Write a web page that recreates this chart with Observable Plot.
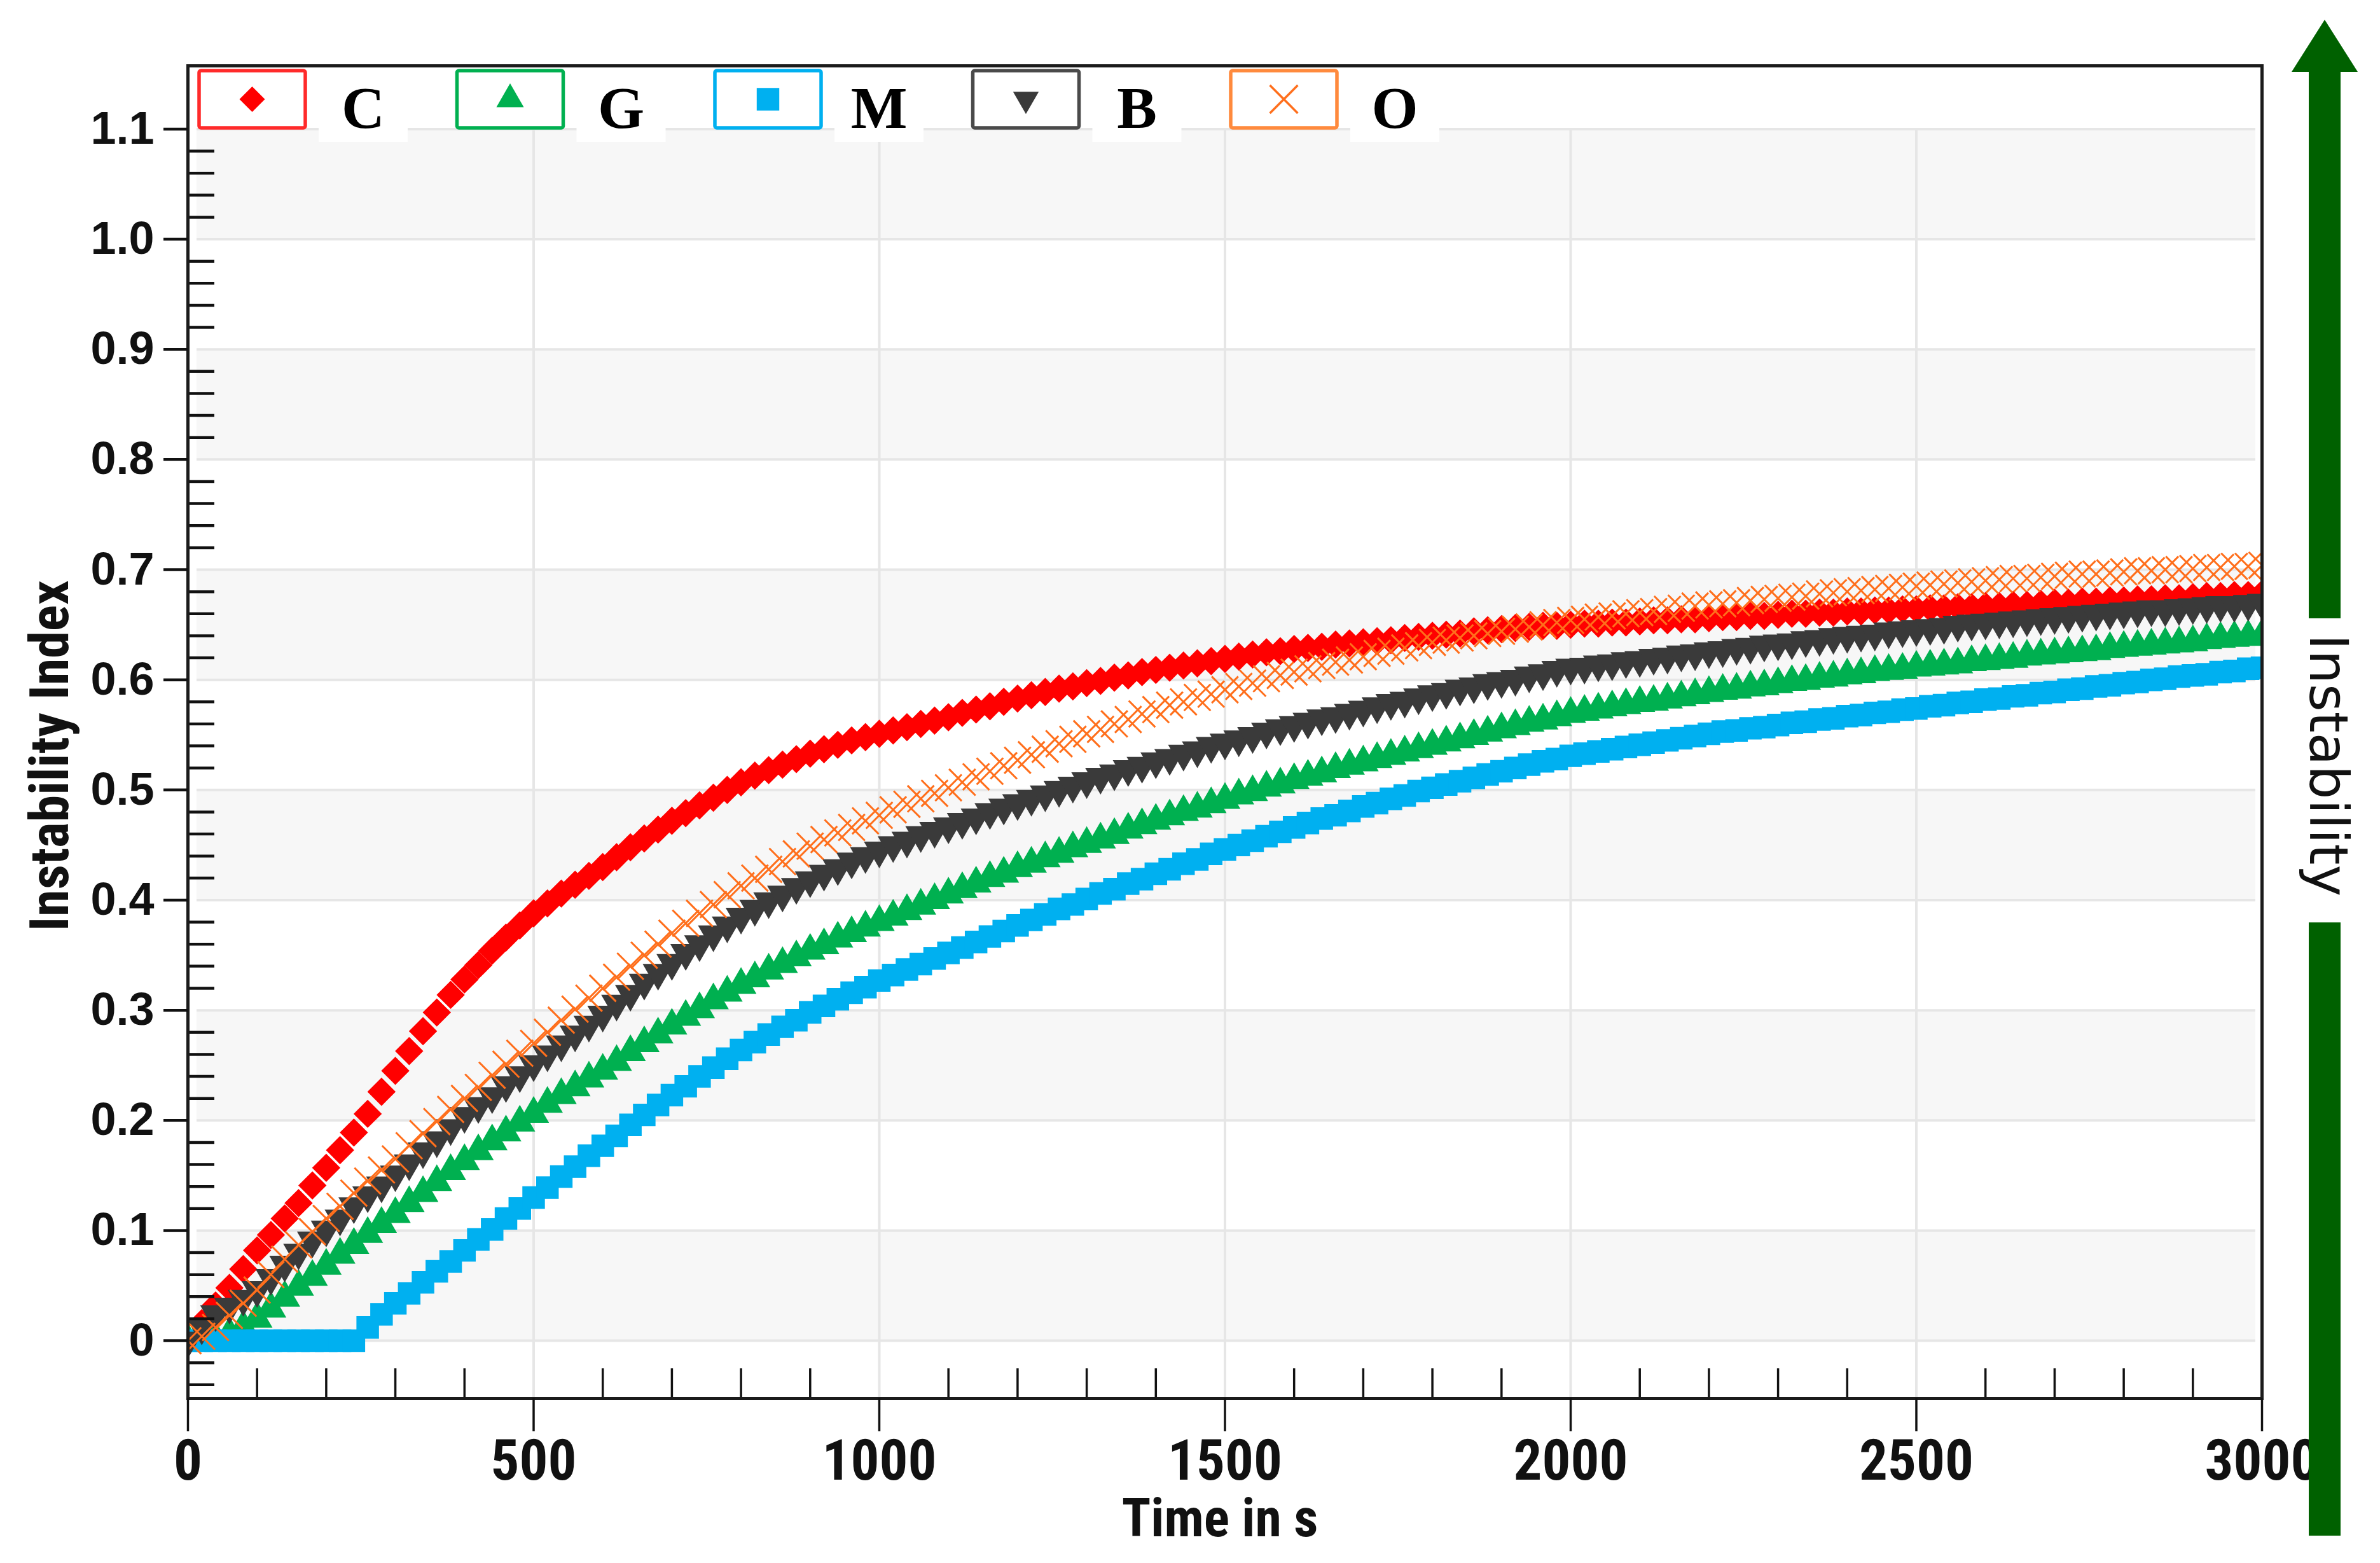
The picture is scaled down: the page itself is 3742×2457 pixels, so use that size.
<!DOCTYPE html>
<html>
<head>
<meta charset="utf-8">
<script src="https://cdn.jsdelivr.net/npm/d3@7"></script>
<script src="https://cdn.jsdelivr.net/npm/@observablehq/plot@0.6"></script>
<style>
html,body{margin:0;padding:0;background:#fff;}
#wrap{position:relative;width:3742px;height:2457px;overflow:hidden;background:#fff;}
#wrap svg{position:absolute;left:0;top:0;}
</style>
</head>
<body>
<div id="wrap"></div>
<script>
// ---- data (readings every STEP seconds, 0 .. 3000 s) ----
const STEP = 20;
const C = [
0.000,0.016,0.032,0.048,0.065,0.082,0.096,0.111,0.125,0.141,
0.157,0.173,0.189,0.206,0.226,0.245,0.263,0.281,0.298,0.314,
0.328,0.341,0.354,0.366,0.377,0.388,0.397,0.406,0.414,0.422,
0.430,0.439,0.448,0.456,0.464,0.472,0.479,0.486,0.493,0.500,
0.507,0.513,0.518,0.523,0.528,0.533,0.537,0.541,0.545,0.548,
0.551,0.554,0.557,0.560,0.563,0.566,0.570,0.573,0.576,0.580,
0.583,0.586,0.589,0.592,0.594,0.597,0.599,0.602,0.604,0.607,
0.609,0.611,0.613,0.615,0.617,0.619,0.621,0.623,0.625,0.626,
0.628,0.629,0.630,0.632,0.633,0.634,0.635,0.636,0.638,0.639,
0.640,0.641,0.642,0.644,0.645,0.646,0.647,0.648,0.649,0.649,
0.650,0.651,0.651,0.652,0.652,0.653,0.654,0.654,0.655,0.655,
0.656,0.657,0.657,0.658,0.658,0.659,0.660,0.660,0.661,0.661,
0.662,0.662,0.663,0.663,0.664,0.664,0.665,0.665,0.666,0.666,
0.667,0.667,0.668,0.668,0.669,0.670,0.670,0.671,0.671,0.672,
0.672,0.673,0.673,0.674,0.674,0.675,0.676,0.676,0.677,0.677,
0.678];
const G = [
0.000,0.000,0.002,0.006,0.012,0.020,0.029,0.039,0.049,0.058,
0.068,0.078,0.087,0.097,0.106,0.115,0.125,0.134,0.144,0.154,
0.163,0.172,0.181,0.189,0.198,0.206,0.215,0.223,0.230,0.238,
0.245,0.253,0.262,0.270,0.278,0.286,0.294,0.301,0.309,0.316,
0.323,0.329,0.336,0.342,0.348,0.354,0.359,0.365,0.370,0.375,
0.380,0.385,0.390,0.395,0.400,0.405,0.410,0.415,0.420,0.424,
0.429,0.433,0.438,0.442,0.447,0.451,0.455,0.459,0.464,0.468,
0.472,0.476,0.480,0.483,0.487,0.491,0.495,0.498,0.502,0.505,
0.509,0.512,0.515,0.519,0.522,0.525,0.528,0.531,0.534,0.537,
0.540,0.543,0.546,0.549,0.552,0.555,0.558,0.561,0.563,0.566,
0.569,0.571,0.573,0.575,0.577,0.579,0.580,0.582,0.584,0.586,
0.588,0.590,0.591,0.593,0.594,0.596,0.598,0.599,0.601,0.602,
0.604,0.605,0.607,0.608,0.609,0.611,0.612,0.613,0.614,0.616,
0.617,0.618,0.619,0.621,0.622,0.623,0.624,0.625,0.626,0.628,
0.629,0.630,0.631,0.632,0.633,0.634,0.636,0.637,0.638,0.639,
0.640];
const M = [
0.000,0.000,0.000,0.000,0.000,0.000,0.000,0.000,0.000,0.000,
0.000,0.000,0.000,0.012,0.024,0.034,0.043,0.053,0.063,0.072,
0.082,0.092,0.101,0.111,0.120,0.130,0.139,0.149,0.158,0.168,
0.177,0.186,0.196,0.205,0.214,0.223,0.231,0.240,0.248,0.256,
0.264,0.271,0.278,0.285,0.291,0.298,0.304,0.310,0.316,0.321,
0.327,0.332,0.337,0.342,0.347,0.352,0.357,0.362,0.367,0.372,
0.377,0.382,0.387,0.392,0.396,0.401,0.406,0.410,0.415,0.419,
0.424,0.428,0.433,0.437,0.442,0.446,0.450,0.454,0.458,0.462,
0.466,0.470,0.474,0.477,0.481,0.485,0.488,0.492,0.495,0.499,
0.502,0.505,0.508,0.511,0.514,0.517,0.520,0.523,0.526,0.528,
0.531,0.533,0.535,0.537,0.539,0.541,0.543,0.545,0.547,0.549,
0.551,0.553,0.554,0.556,0.557,0.559,0.561,0.562,0.564,0.565,
0.567,0.568,0.570,0.571,0.573,0.574,0.576,0.577,0.579,0.580,
0.582,0.583,0.585,0.586,0.588,0.589,0.591,0.592,0.594,0.595,
0.597,0.598,0.600,0.601,0.603,0.604,0.605,0.607,0.608,0.610,
0.611];
const B = [
0.000,0.012,0.024,0.031,0.038,0.046,0.057,0.069,0.080,0.091,
0.101,0.111,0.122,0.132,0.141,0.151,0.161,0.172,0.182,0.193,
0.204,0.213,0.222,0.232,0.241,0.251,0.260,0.269,0.278,0.287,
0.296,0.306,0.315,0.325,0.334,0.343,0.352,0.360,0.369,0.377,
0.385,0.392,0.399,0.405,0.412,0.418,0.424,0.429,0.435,0.440,
0.445,0.450,0.454,0.459,0.463,0.467,0.471,0.475,0.480,0.484,
0.488,0.492,0.496,0.500,0.504,0.508,0.512,0.515,0.519,0.522,
0.526,0.529,0.533,0.536,0.540,0.543,0.546,0.549,0.553,0.556,
0.559,0.562,0.565,0.567,0.570,0.573,0.576,0.579,0.581,0.584,
0.587,0.589,0.592,0.594,0.597,0.599,0.601,0.604,0.606,0.609,
0.611,0.612,0.614,0.615,0.617,0.618,0.620,0.621,0.623,0.624,
0.626,0.627,0.629,0.630,0.632,0.633,0.634,0.636,0.637,0.639,
0.640,0.641,0.642,0.644,0.645,0.646,0.647,0.648,0.650,0.651,
0.652,0.653,0.654,0.655,0.656,0.657,0.658,0.659,0.660,0.661,
0.662,0.663,0.664,0.664,0.665,0.666,0.667,0.668,0.668,0.669,
0.670];
const O = [
0.000,0.004,0.012,0.023,0.034,0.046,0.060,0.074,0.087,0.099,
0.111,0.122,0.134,0.145,0.155,0.165,0.177,0.188,0.199,0.210,
0.220,0.230,0.241,0.251,0.261,0.270,0.280,0.291,0.301,0.311,
0.320,0.330,0.340,0.350,0.360,0.370,0.379,0.388,0.396,0.405,
0.413,0.420,0.428,0.435,0.442,0.449,0.455,0.461,0.466,0.472,
0.477,0.482,0.487,0.492,0.497,0.502,0.507,0.512,0.517,0.522,
0.527,0.532,0.537,0.542,0.546,0.551,0.555,0.560,0.564,0.569,
0.573,0.577,0.580,0.584,0.587,0.591,0.594,0.597,0.601,0.604,
0.607,0.610,0.613,0.616,0.618,0.621,0.624,0.626,0.629,0.631,
0.634,0.636,0.638,0.640,0.642,0.644,0.646,0.648,0.650,0.652,
0.654,0.655,0.657,0.658,0.660,0.661,0.662,0.664,0.665,0.667,
0.668,0.669,0.670,0.672,0.673,0.674,0.675,0.676,0.678,0.679,
0.680,0.681,0.682,0.683,0.684,0.685,0.686,0.687,0.688,0.689,
0.690,0.691,0.692,0.692,0.693,0.694,0.695,0.696,0.696,0.697,
0.698,0.699,0.699,0.700,0.700,0.701,0.702,0.702,0.703,0.703,
0.704];

const seriesNames = ["C", "G", "M", "B", "O"];
const xMajorTicks = [0, 500, 1000, 1500, 2000, 2500, 3000];
const yMajorTicks = [0, 0.1, 0.2, 0.3, 0.4, 0.5, 0.6, 0.7, 0.8, 0.9, 1.0, 1.1];
const xTitle = "Time in s";
const yTitle = "Instability Index";
const arrowLabel = "Instability";

// ---- styling / layout ----
const W = 3742, H = 2457;
const mL = 295, mR = 186, mT = 103, mB = 259;
const innerW = W - mL - mR, innerH = H - mT - mB;
const Y_LO = -0.0525, Y_HI = 1.1574;
const narrow = "'Liberation Sans Narrow', 'Arial Narrow', 'Roboto Condensed', sans-serif";

const invTriangle = {
  draw(ctx, size) {
    const y = Math.sqrt(size / (Math.sqrt(3) * 3));
    ctx.moveTo(0, 2 * y);
    ctx.lineTo(-Math.sqrt(3) * y, -y);
    ctx.lineTo(Math.sqrt(3) * y, -y);
    ctx.closePath();
  }
};

const style = {
  C: {color: "#ff0000", box: "#ff2a2a", symbol: "diamond2", r: 20, filled: true, legR: 18},
  G: {color: "#00b050", box: "#00b050", symbol: "triangle", r: 18, filled: true, legR: 16},
  M: {color: "#00b0f0", box: "#00b0f0", symbol: "square", r: 20, filled: true, legR: 20},
  B: {color: "#3a3a3a", box: "#4a4a4a", symbol: invTriangle, r: 18, filled: true, legR: 15},
  O: {color: "#ff6f1c", box: "#ff8a3d", symbol: "times", r: 19, filled: false, legR: 20}
};
const values = {C, G, M, B, O};

const rows = name => values[name].map((v, i) => ({t: i * STEP, v, s: name}));

const xMinor = d3.range(100, 3000, 100).filter(d => d % 500 !== 0);
const yMinor = d3.range(-2, 55).map(i => +(i * 0.02).toFixed(2)).filter(d => Math.abs(d * 10 - Math.round(d * 10)) > 1e-6 && d < 1.1);
const bandStarts = yMajorTicks.filter((d, i) => i % 2 === 0);

const dotMarks = seriesNames.map(name => {
  const st = style[name];
  return Plot.dot(rows(name), {
    x: "t", y: "v",
    symbol: st.symbol, r: st.r,
    fill: st.filled ? st.color : "none",
    stroke: st.filled ? "none" : st.color,
    strokeWidth: st.filled ? 0 : 3,
    clip: true
  });
});

const plot = Plot.plot({
  width: W, height: H,
  marginLeft: mL, marginRight: mR, marginTop: mT, marginBottom: mB,
  style: {background: "transparent", color: "#111", fontFamily: "'Liberation Sans', Arial, sans-serif", overflow: "visible"},
  x: {domain: [0, 3000], label: null},
  y: {domain: [Y_LO, Y_HI], label: null},
  marks: [
    Plot.rect(bandStarts.slice(0, 6), {y1: d => d, y2: d => d + 0.1, fill: "#f7f7f7", insetLeft: 14, insetRight: 10}),
    Plot.ruleY(yMajorTicks, {stroke: "#e6e6e6", strokeWidth: 4, insetLeft: 14, insetRight: 10}),
    Plot.ruleX(xMajorTicks.slice(1, -1), {y1: Y_LO, y2: 1.1, stroke: "#e6e6e6", strokeWidth: 4}),
    ...dotMarks,
    Plot.tickX(xMinor, {x: d => d, insetTop: innerH - 47, stroke: "#111", strokeWidth: 3.5}),
    Plot.tickY(yMinor, {y: d => d, insetRight: innerW - 42, stroke: "#111", strokeWidth: 4.5}),
    Plot.frame({stroke: "#1b1b1b", strokeWidth: 5}),
    Plot.axisY(yMajorTicks, {
      tickSize: 38, tickPadding: 15, strokeWidth: 4.5, stroke: "#111",
      tickFormat: d => d === 0 ? "0" : d.toFixed(1),
      fontSize: 72, fontWeight: "bold", fontFamily: "'Liberation Sans', Arial, sans-serif", fill: "#111",
      label: null
    }),
    Plot.axisX(xMajorTicks, {
      tickSize: 52, tickPadding: 12, strokeWidth: 3.5, stroke: "#111",
      tickFormat: d => String(d),
      fontSize: 89, fontWeight: "bold", fontFamily: narrow, fill: "#111",
      label: null
    }),
    Plot.text([yTitle], {text: d => d, frameAnchor: "left", textAnchor: "middle", lineAnchor: "middle",
      dx: -216, dy: 37, rotate: -90,
      fontSize: 86, fontWeight: "bold", fontFamily: narrow, fill: "#111"}),
    Plot.text([xTitle], {text: d => d, frameAnchor: "bottom", textAnchor: "middle", lineAnchor: "middle",
      dx: -8, dy: 190,
      fontSize: 84, fontWeight: "bold", fontFamily: narrow, fill: "#111"})
  ]
});

const wrap = document.getElementById("wrap");
wrap.appendChild(plot);

// ---- overlay: legend inside the frame and the "Instability" arrow on the right ----
const ov = d3.select(wrap).append("svg")
  .attr("width", W).attr("height", H)
  .style("pointer-events", "none");

const symbolType = {diamond2: d3.symbolDiamond2, triangle: d3.symbolTriangle, square: d3.symbolSquare, times: d3.symbolTimes};
const legendX0 = 313, legendStep = 405.5, boxW = 167, boxH = 90, boxY = 111;
seriesNames.forEach((name, i) => {
  const st = style[name];
  const x0 = legendX0 + i * legendStep;
  const g = ov.append("g");
  g.append("rect").attr("x", x0).attr("y", boxY).attr("width", boxW).attr("height", boxH)
    .attr("rx", 3).attr("fill", "#fff").attr("stroke", st.box).attr("stroke-width", 5.5);
  const type = typeof st.symbol === "string" ? symbolType[st.symbol] : st.symbol;
  g.append("path")
    .attr("d", d3.symbol().type(type).size(Math.PI * st.legR * st.legR)())
    .attr("transform", `translate(${x0 + boxW / 2},${boxY + boxH / 2})`)
    .attr("fill", st.filled ? st.color : "none")
    .attr("stroke", st.filled ? "none" : st.color)
    .attr("stroke-width", st.filled ? 0 : 3.5);
  const cx = x0 + 258;
  g.append("rect").attr("x", cx - 70).attr("y", boxY + 2).attr("width", 140).attr("height", 110).attr("fill", "#fff");
  g.append("text").attr("x", cx).attr("y", 201).attr("text-anchor", "middle")
    .attr("font-family", "'Liberation Serif', 'Times New Roman', serif")
    .attr("font-weight", "bold").attr("font-size", 94).attr("fill", "#000")
    .text(name);
});

const green = "#006100";
ov.append("polygon").attr("points", "3655,31 3603,113 3707,113").attr("fill", green);
ov.append("rect").attr("x", 3630).attr("y", 110).attr("width", 50).attr("height", 862).attr("fill", green);
ov.append("rect").attr("x", 3630).attr("y", 1450).attr("width", 50).attr("height", 964).attr("fill", green);
ov.append("text")
  .attr("transform", "translate(3632,1203) rotate(90)")
  .attr("text-anchor", "middle")
  .attr("font-family", "'DejaVu Sans', Verdana, sans-serif")
  .attr("font-size", 84).attr("fill", "#111")
  .text(arrowLabel);
</script>
</body>
</html>
